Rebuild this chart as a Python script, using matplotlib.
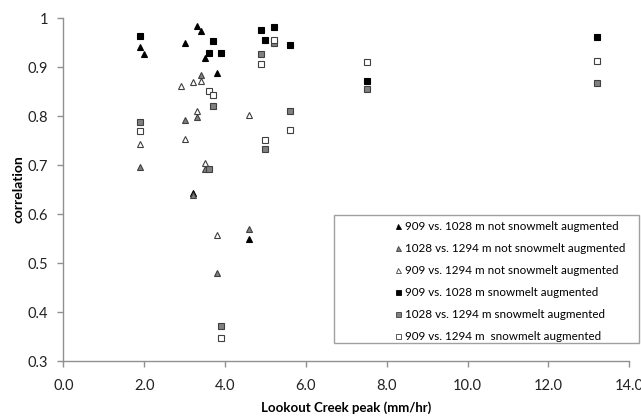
import matplotlib
matplotlib.use("Agg")
import matplotlib.pyplot as plt
from matplotlib.patches import Rectangle

plt.rcParams['font.family'] = ['Lato', 'DejaVu Sans']

# peak rate (mm/hr) and correlation, one pair of lists per station pair
tri_909_1028_x = [1.9, 2.0, 3.0, 3.3, 3.4, 3.5, 3.8, 3.2, 4.6]
tri_909_1028_y = [0.941, 0.927, 0.950, 0.984, 0.974, 0.918, 0.888, 0.643, 0.550]

tri_1028_1294_x = [1.9, 3.0, 3.4, 3.3, 3.5, 3.2, 3.8, 4.6]
tri_1028_1294_y = [0.696, 0.792, 0.884, 0.798, 0.693, 0.638, 0.480, 0.569]

tri_909_1294_x = [1.9, 2.9, 3.0, 3.2, 3.4, 3.3, 3.5, 3.8, 4.6]
tri_909_1294_y = [0.743, 0.862, 0.754, 0.869, 0.871, 0.811, 0.705, 0.558, 0.803]

sq_x = [1.9, 3.6, 3.7, 3.9, 4.9, 5.0, 5.2, 5.6, 7.5, 13.2]
sq_909_1028_y = [0.964, 0.929, 0.954, 0.929, 0.976, 0.956, 0.983, 0.946, 0.872, 0.962]
sq_1028_1294_y = [0.789, 0.693, 0.820, 0.371, 0.927, 0.732, 0.950, 0.811, 0.856, 0.867]
sq_909_1294_y = [0.769, 0.852, 0.843, 0.346, 0.906, 0.751, 0.956, 0.771, 0.911, 0.912]

labels = ["909 vs. 1028 m not snowmelt augmented",
          "1028 vs. 1294 m not snowmelt augmented",
          "909 vs. 1294 m not snowmelt augmented",
          "909 vs. 1028 m snowmelt augmented",
          "1028 vs. 1294 m snowmelt augmented",
          "909 vs. 1294 m  snowmelt augmented"]

fig = plt.figure(figsize=(6.41, 4.16), dpi=100)
ax = fig.add_axes([0.0988, 0.1322, 0.883, 0.824])

ms = 5.0
ax.plot(tri_909_1028_x, tri_909_1028_y, ls='none', marker='^', ms=ms,
        mfc='black', mec='black', mew=0.8, label=labels[0])
ax.plot(tri_1028_1294_x, tri_1028_1294_y, ls='none', marker='^', ms=ms,
        mfc='#808080', mec='#404040', mew=0.8, label=labels[1])
ax.plot(tri_909_1294_x, tri_909_1294_y, ls='none', marker='^', ms=ms,
        mfc='white', mec='#404040', mew=0.8, label=labels[2])
ax.plot(sq_x, sq_909_1028_y, ls='none', marker='s', ms=ms,
        mfc='black', mec='black', mew=0.8, label=labels[3])
ax.plot(sq_x, sq_1028_1294_y, ls='none', marker='s', ms=ms,
        mfc='#808080', mec='#404040', mew=0.8, label=labels[4])
ax.plot(sq_x, sq_909_1294_y, ls='none', marker='s', ms=ms,
        mfc='white', mec='#404040', mew=0.8, label=labels[5])

ax.set_xlim(0, 14)
ax.set_ylim(0.3, 1.0)
ax.set_xticks([0, 2, 4, 6, 8, 10, 12, 14])
ax.set_xticklabels(["0.0", "2.0", "4.0", "6.0", "8.0", "10.0", "12.0", "14.0"])
ax.set_yticks([0.3, 0.4, 0.5, 0.6, 0.7, 0.8, 0.9, 1.0])
ax.set_yticklabels(["0.3", "0.4", "0.5", "0.6", "0.7", "0.8", "0.9", "1"])

for s in ['top', 'right']:
    ax.spines[s].set_visible(False)
for s in ['left', 'bottom']:
    ax.spines[s].set_color('#909090')
    ax.spines[s].set_linewidth(1.0)
ax.tick_params(colors='#909090', labelcolor='#222222', labelsize=10.5,
               length=4, width=1.0, direction='out')
ax.tick_params(axis='x', pad=9)
ax.tick_params(axis='y', pad=7)

ax.set_xlabel("Lookout Creek peak (mm/hr)", fontsize=9.5, fontweight='bold', labelpad=6)
ax.set_ylabel("correlation", fontsize=10, fontweight='bold', labelpad=2)

# legend box drawn on its own, entries sit indented inside it
box = Rectangle((0.521, 0.1755), 0.476, 0.3084, transform=fig.transFigure,
                facecolor='white', edgecolor='#a0a0a0', lw=1.0, zorder=4, clip_on=False)
ax.add_patch(box)
leg = ax.legend(loc='upper left', bbox_to_anchor=(0.616, 0.4684),
                bbox_transform=fig.transFigure, fontsize=8.4,
                frameon=False, handlelength=0.5, handletextpad=0.35,
                labelspacing=0.94, borderpad=0, borderaxespad=0)
leg.set_zorder(6)
for h in leg.legend_handles:
    h.set_markersize(3.6)
    h.set_markeredgewidth(0.6)

fig.savefig("out.png", dpi=100)
